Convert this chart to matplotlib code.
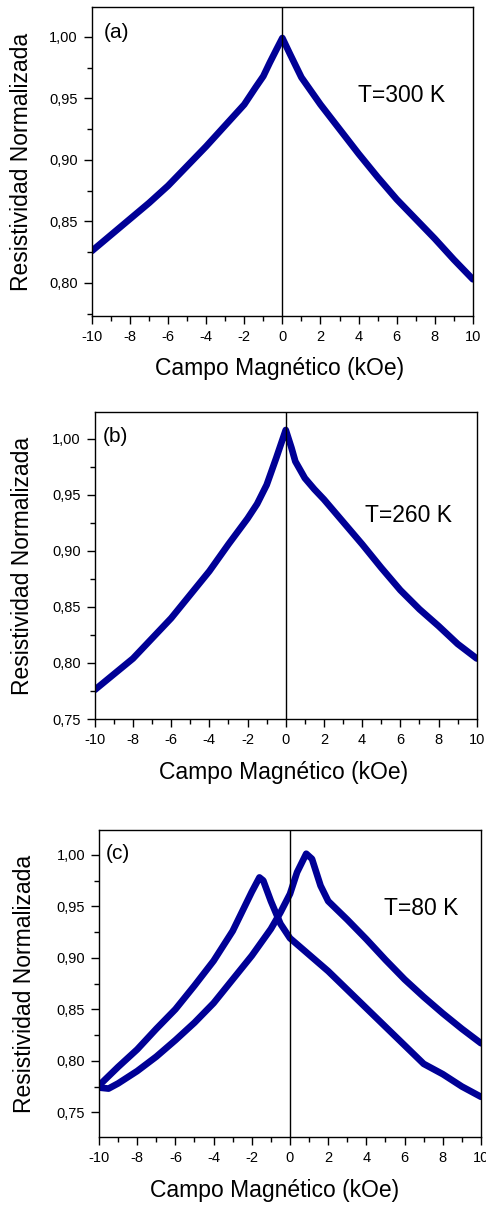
import numpy as np
import matplotlib.pyplot as plt
from matplotlib.ticker import MultipleLocator, FuncFormatter

plt.rcParams['font.family'] = ['Liberation Sans', 'DejaVu Sans']
plt.rcParams['axes.unicode_minus'] = False

# T = 300 K
campo_a = [-10, -9, -8, -7, -6, -5, -4, -3, -2, -1.4, -1, -0.66, -0.3, 0,
           0.4, 1, 2, 3, 4, 5, 6, 7, 8, 9, 10]
rho_a = [0.826, 0.839, 0.852, 0.865, 0.879, 0.895, 0.911, 0.928, 0.945, 0.959,
         0.968, 0.979, 0.990, 0.999,
         0.986, 0.967, 0.945, 0.925, 0.905, 0.886, 0.868, 0.852, 0.836, 0.819, 0.803]

# T = 260 K
campo_b = [-10, -9, -8, -7, -6, -5, -4, -3, -2, -1.5, -1, -0.5, 0,
           0.3, 0.5, 1, 1.5, 2, 3, 4, 5, 6, 7, 8, 9, 10]
rho_b = [0.776, 0.790, 0.804, 0.822, 0.840, 0.861, 0.882, 0.906, 0.929, 0.942, 0.959, 0.983, 1.008,
         0.992, 0.980, 0.965, 0.955, 0.946, 0.926, 0.906, 0.885, 0.865, 0.848, 0.833, 0.817, 0.804]

# T = 80 K, barrido descendente (pico en campo negativo)
campo_c1 = [-10, -9, -8, -7, -6, -5, -4, -3, -2.5, -2, -1.6, -1.4, -1, -0.5, 0,
            1, 2, 3, 4, 5, 6, 7, 8, 9, 10]
rho_c1 = [0.776, 0.794, 0.811, 0.831, 0.850, 0.873, 0.897, 0.926, 0.945, 0.964, 0.978, 0.975,
          0.955, 0.933, 0.919, 0.903, 0.887, 0.869, 0.851, 0.833, 0.815, 0.797, 0.787, 0.775, 0.765]

# T = 80 K, barrido ascendente (pico en campo positivo)
campo_c2 = [-10, -9.5, -9, -8, -7, -6, -5, -4, -3, -2, -1, -0.5, 0,
            0.37, 0.85, 1.15, 1.6, 2, 3, 4, 5, 6, 7, 8, 9, 10]
rho_c2 = [0.774, 0.773, 0.778, 0.790, 0.804, 0.820, 0.837, 0.856, 0.879, 0.902, 0.928, 0.944, 0.962,
          0.983, 1.001, 0.996, 0.970, 0.955, 0.937, 0.918, 0.898, 0.879, 0.862, 0.846, 0.831, 0.817]

paneles = [
    dict(curvas=[(campo_a, rho_a)], ylim=(0.773, 1.024), letra='(a)', temp='T=300 K',
         rect=[0.189, 0.738, 0.784, 0.256], letra_xy=(0.030, 0.919), temp_xy=(0.698, 0.715),
         ylab_x=-0.184, xlab_x=0.493, xlab_y=-0.168),
    dict(curvas=[(campo_b, rho_b)], ylim=(0.75, 1.024), letra='(b)', temp='T=260 K',
         rect=[0.195, 0.4043, 0.786, 0.2543], letra_xy=(0.021, 0.922), temp_xy=(0.707, 0.664),
         ylab_x=-0.188, xlab_x=0.495, xlab_y=-0.173),
    dict(curvas=[(campo_c1, rho_c1), (campo_c2, rho_c2)], ylim=(0.726, 1.024), letra='(c)',
         temp='T=80 K', rect=[0.2037, 0.058, 0.786, 0.2543], letra_xy=(0.018, 0.925),
         temp_xy=(0.746, 0.746), ylab_x=-0.194, xlab_x=0.46, xlab_y=-0.173),
]

color = '#000096'
coma = FuncFormatter(lambda v, pos: f'{v:.2f}'.replace('.', ','))

fig = plt.figure(figsize=(4.86, 12.07), dpi=100)

for p in paneles:
    ax = fig.add_axes(p['rect'])
    for x, y in p['curvas']:
        ax.plot(x, y, color=color, lw=4.8, solid_joinstyle='round', solid_capstyle='round')
    ax.axvline(0, color='black', lw=1.0)

    ax.set_xlim(-10, 10)
    ax.set_ylim(*p['ylim'])
    ax.xaxis.set_major_locator(MultipleLocator(2))
    ax.xaxis.set_minor_locator(MultipleLocator(1))
    ax.yaxis.set_major_locator(MultipleLocator(0.05))
    ax.yaxis.set_minor_locator(MultipleLocator(0.025))
    ax.yaxis.set_major_formatter(coma)
    ax.tick_params(which='major', direction='out', length=6, width=1.0, labelsize=10.5, pad=4)
    ax.tick_params(which='minor', direction='out', length=3.5, width=1.0)
    for s in ax.spines.values():
        s.set_linewidth(1.0)

    ax.set_xlabel('Campo Magnético (kOe)', fontsize=16.5, va='center')
    ax.xaxis.set_label_coords(p['xlab_x'], p['xlab_y'])
    ax.set_ylabel('Resistividad Normalizada', fontsize=16.5, va='center')
    ax.yaxis.set_label_coords(p['ylab_x'], 0.5)

    ax.text(*p['letra_xy'], p['letra'], transform=ax.transAxes, fontsize=15,
            ha='left', va='center')
    ax.text(*p['temp_xy'], p['temp'], transform=ax.transAxes, fontsize=16.5,
            ha='left', va='center')

fig.savefig('out.png', dpi=100)
